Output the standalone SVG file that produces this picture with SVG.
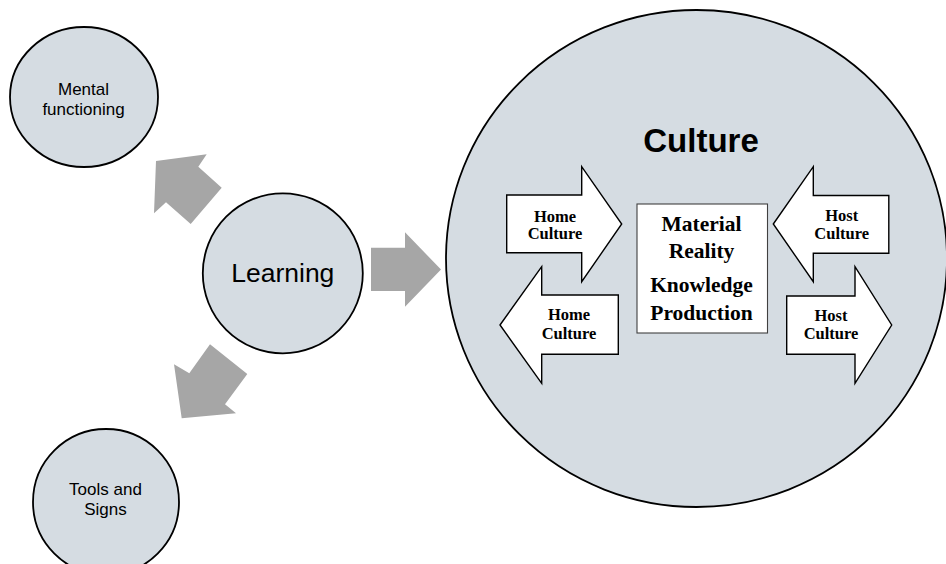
<svg xmlns="http://www.w3.org/2000/svg" width="946" height="564" viewBox="0 0 946 564">
  <style>
    .node { fill: #d5dce2; stroke: #000; stroke-width: 1.8; }
    .flow { fill: #a6a6a6; stroke: none; }
    .dir { fill: #fff; stroke: #000; stroke-width: 1.4; stroke-linejoin: miter; }
    .box { fill: #fff; stroke: #404040; stroke-width: 1.1; }
    .sans { font-family: "Liberation Sans", Arial, sans-serif; fill: #000; text-anchor: middle; }
    .serif { font-family: "Liberation Serif", "Times New Roman", serif; font-weight: bold; fill: #000; text-anchor: middle; }
    .small { font-size: 17px; }
    .arrowtxt { font-size: 16.5px; }
    .boxtxt { font-size: 21.5px; }
  </style>

  <!-- Culture: large circle with its inner exchange arrows -->
  <g id="culture">
    <ellipse class="node" cx="696.5" cy="258.5" rx="250.5" ry="248.5"/>
    <text class="sans" x="701" y="151.5" font-size="33" font-weight="bold">Culture</text>

    <g id="home-culture-in">
      <polygon class="dir" points="506.7,195 581.7,195 581.7,166.7 621.7,224 581.7,281.7 581.7,252.7 506.7,252.7"/>
      <text class="serif arrowtxt" x="555" y="221.5">Home</text>
      <text class="serif arrowtxt" x="555" y="238.8">Culture</text>
    </g>

    <g id="home-culture-out">
      <polygon class="dir" points="500,325 541.7,266.7 541.7,295 618.3,295 618.3,354.3 541.7,354.3 541.7,383.3"/>
      <text class="serif arrowtxt" x="569" y="320.3">Home</text>
      <text class="serif arrowtxt" x="569" y="338.6">Culture</text>
    </g>

    <g id="material-reality">
      <rect class="box" x="637" y="204" width="130.5" height="129"/>
      <text class="serif boxtxt" x="701.5" y="231">Material</text>
      <text class="serif boxtxt" x="701.5" y="258.3">Reality</text>
      <text class="serif boxtxt" x="701.5" y="291.7">Knowledge</text>
      <text class="serif boxtxt" x="701.5" y="320">Production</text>
    </g>

    <g id="host-culture-in">
      <polygon class="dir" points="773.3,224 813.3,166.7 813.3,195.5 888.8,195.5 888.8,253.3 813.3,253.3 813.3,281.7"/>
      <text class="serif arrowtxt" x="841.7" y="220.7">Host</text>
      <text class="serif arrowtxt" x="841.7" y="239">Culture</text>
    </g>

    <g id="host-culture-out">
      <polygon class="dir" points="786.7,296 855,296 855,266.7 891.7,325 855,383.3 855,354.3 786.7,354.3"/>
      <text class="serif arrowtxt" x="831" y="320.7">Host</text>
      <text class="serif arrowtxt" x="831" y="339">Culture</text>
    </g>
  </g>

  <!-- Learning hub -->
  <g id="learning">
    <circle class="node" cx="282.8" cy="273.3" r="80"/>
    <text class="sans" x="282.8" y="282" font-size="26.5">Learning</text>
  </g>

  <g id="mental-functioning">
    <ellipse class="node" cx="84" cy="97" rx="74" ry="70"/>
    <text class="sans small" x="83.5" y="95">Mental</text>
    <text class="sans small" x="83.5" y="115">functioning</text>
  </g>

  <g id="tools-and-signs">
    <ellipse class="node" cx="106" cy="502" rx="73" ry="73"/>
    <text class="sans small" x="105.5" y="495">Tools and</text>
    <text class="sans small" x="105.5" y="515">Signs</text>
  </g>

  <!-- Block arrows leading out of Learning -->
  <g id="connectors">
    <polygon class="flow" points="371,247.7 405,247.7 405,232.3 441,269.5 405,306.7 405,291 371,291"/>
    <polygon class="flow" points="221.7,187.7 198.3,166.7 206.7,154.3 156,161 154,213.3 166,202.3 190.7,224"/>
    <polygon class="flow" points="210,344.3 247.3,374 225,404.3 236,413.3 181.7,418.3 174,364.3 189.3,373.3"/>
  </g>
</svg>
